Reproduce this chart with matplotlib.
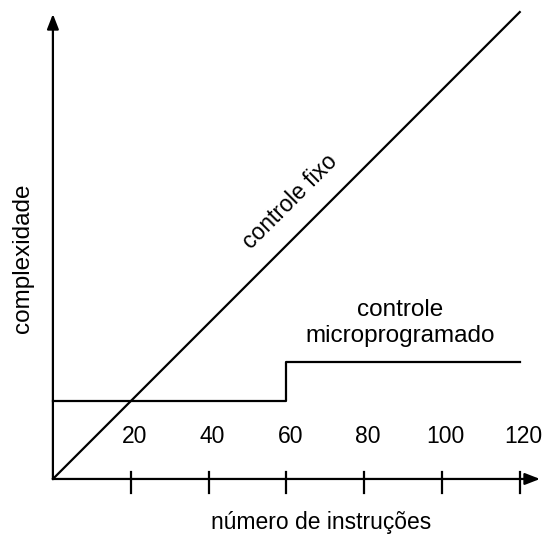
import matplotlib
matplotlib.use('Agg')
from matplotlib import pyplot as plt

plt.rcParams['font.family'] = ['Liberation Sans', 'DejaVu Sans']

# dados
tick_vals = [20, 40, 60, 80, 100, 120]
fixo_x = [0, 120]
fixo_y = [0, 120]
micro_x = [0, 60, 60, 120]
micro_y = [20, 20, 30, 30]

fig = plt.figure(figsize=(5.47, 5.35), dpi=100)
ax = fig.add_axes([0, 0, 1, 1])
ax.set_xlim(-13.6, 127.0)
ax.set_ylim(-14.4, 123.1)
ax.axis('off')

lw = 1.6
# eixos com setas
ax.annotate('', xy=(125.2, 0), xytext=(0, 0),
            arrowprops=dict(arrowstyle='-|>,head_length=0.9,head_width=0.35',
                            color='black', lw=lw, shrinkA=0, shrinkB=0))
ax.annotate('', xy=(0, 119.5), xytext=(0, 0),
            arrowprops=dict(arrowstyle='-|>,head_length=0.9,head_width=0.35',
                            color='black', lw=lw, shrinkA=0, shrinkB=0))

# marcas do eixo x
for t in tick_vals:
    ax.plot([t, t], [-3.6, 1.8], color='black', lw=lw)
    ax.text(t + 1.0, 10.9, str(t), ha='center', va='center', fontsize=16.5)

ax.plot(fixo_x, fixo_y, color='black', lw=lw)
ax.plot(micro_x, micro_y, color='black', lw=lw)

ax.text(60.9, 71.2, 'controle fixo', rotation=45, ha='center', va='center',
        fontsize=16.5, rotation_mode='anchor')
ax.text(89.2, 40.1, 'controle\nmicroprogramado', ha='center', va='center',
        fontsize=17.5, linespacing=1.2)
ax.text(-7.7, 56.8, 'complexidade', rotation=90, ha='center', va='center', fontsize=17.5)
ax.text(68.9, -11.3, 'número de instruções', ha='center', va='center', fontsize=16.5)

fig.savefig('out.png', dpi=100)
